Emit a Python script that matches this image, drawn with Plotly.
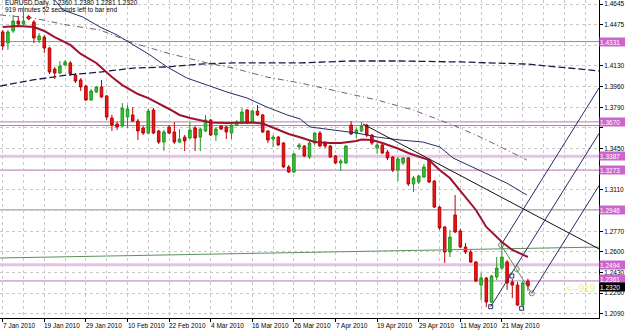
import plotly.graph_objects as go

# ---------------- data ----------------
bar_idx = list(range(102))
date_ticks = [0, 8, 16, 24, 32, 40, 48, 56, 64, 72, 80, 88, 96]
date_labels = ["7 Jan 2010", "19 Jan 2010", "29 Jan 2010", "10 Feb 2010", "22 Feb 2010",
               "4 Mar 2010", "16 Mar 2010", "26 Mar 2010", "7 Apr 2010", "19 Apr 2010",
               "29 Apr 2010", "11 May 2010", "21 May 2010"]

open_ = [1.4410, 1.4319, 1.4418, 1.4500, 1.4475, 1.4537, 1.4492, 1.4344, 1.4368, 1.4278,
         1.4105, 1.4072, 1.4138, 1.4155, 1.4056, 1.4015, 1.3965, 1.3850, 1.3916, 1.3957,
         1.3883, 1.3702, 1.3652, 1.3636, 1.3710, 1.3727, 1.3677, 1.3620, 1.3578, 1.3768,
         1.3595, 1.3504, 1.3628, 1.3587, 1.3504, 1.3545, 1.3537, 1.3620, 1.3545, 1.3595,
         1.3685, 1.3562, 1.3636, 1.3628, 1.3578, 1.3644, 1.3661, 1.3768, 1.3669, 1.3759,
         1.3727, 1.3595, 1.3529, 1.3545, 1.3496, 1.3299, 1.3257, 1.3463, 1.3471, 1.3381,
         1.3496, 1.3578, 1.3496, 1.3471, 1.3389, 1.3332, 1.3332, 1.3644, 1.3578, 1.3595,
         1.3644, 1.3562, 1.3455, 1.3480, 1.3422, 1.3381, 1.3274, 1.3332, 1.3373, 1.3159,
         1.3175, 1.3216, 1.3356, 1.3183, 1.2969, 1.2805, 1.2599, 1.2904, 1.2772, 1.2640,
         1.2599, 1.2517, 1.2327, 1.2385, 1.2188, 1.2393, 1.2467, 1.2517, 1.2352, 1.2327,
         1.2163, 1.2360]
high = [1.4426, 1.4426, 1.4550, 1.4541, 1.4574, 1.4550, 1.4508, 1.4401, 1.4385, 1.4286,
        1.4122, 1.4171, 1.4179, 1.4171, 1.4072, 1.4031, 1.3973, 1.3941, 1.3965, 1.4015,
        1.3891, 1.3727, 1.3669, 1.3825, 1.3809, 1.3792, 1.3694, 1.3636, 1.3776, 1.3784,
        1.3603, 1.3603, 1.3644, 1.3669, 1.3611, 1.3562, 1.3669, 1.3636, 1.3620, 1.3727,
        1.3694, 1.3628, 1.3644, 1.3636, 1.3652, 1.3685, 1.3784, 1.3776, 1.3768, 1.3809,
        1.3735, 1.3603, 1.3562, 1.3554, 1.3504, 1.3315, 1.3414, 1.3496, 1.3480, 1.3513,
        1.3587, 1.3595, 1.3513, 1.3480, 1.3397, 1.3364, 1.3480, 1.3677, 1.3620, 1.3669,
        1.3652, 1.3570, 1.3496, 1.3488, 1.3439, 1.3389, 1.3381, 1.3381, 1.3381, 1.3225,
        1.3233, 1.3323, 1.3373, 1.3192, 1.2978, 1.2813, 1.2780, 1.3068, 1.2788, 1.2673,
        1.2616, 1.2525, 1.2426, 1.2393, 1.2410, 1.2558, 1.2657, 1.2533, 1.2377, 1.2352,
        1.2360, 1.2380]
low = [1.4262, 1.4262, 1.4401, 1.4467, 1.4467, 1.4508, 1.4319, 1.4319, 1.4237, 1.4064,
       1.4023, 1.4064, 1.4130, 1.4048, 1.3990, 1.3924, 1.3842, 1.3842, 1.3908, 1.3866,
       1.3685, 1.3595, 1.3603, 1.3628, 1.3620, 1.3669, 1.3521, 1.3562, 1.3570, 1.3570,
       1.3488, 1.3430, 1.3570, 1.3488, 1.3496, 1.3430, 1.3529, 1.3430, 1.3430, 1.3587,
       1.3554, 1.3513, 1.3603, 1.3529, 1.3529, 1.3636, 1.3652, 1.3652, 1.3661, 1.3718,
       1.3578, 1.3496, 1.3463, 1.3471, 1.3290, 1.3249, 1.3249, 1.3439, 1.3381, 1.3364,
       1.3480, 1.3463, 1.3455, 1.3373, 1.3323, 1.3266, 1.3323, 1.3562, 1.3537, 1.3587,
       1.3545, 1.3480, 1.3406, 1.3406, 1.3356, 1.3257, 1.3183, 1.3315, 1.3142, 1.3093,
       1.3159, 1.3208, 1.3167, 1.2961, 1.2780, 1.2509, 1.2558, 1.2755, 1.2632, 1.2583,
       1.2509, 1.2352, 1.2204, 1.2146, 1.2179, 1.2369, 1.2451, 1.2286, 1.2220, 1.2155,
       1.2155, 1.2281]
close = [1.4294, 1.4410, 1.4500, 1.4475, 1.4500, 1.4517, 1.4360, 1.4377, 1.4278, 1.4080,
         1.4072, 1.4130, 1.4163, 1.4064, 1.4006, 1.3957, 1.3850, 1.3924, 1.3957, 1.3875,
         1.3710, 1.3644, 1.3628, 1.3784, 1.3776, 1.3677, 1.3595, 1.3578, 1.3759, 1.3578,
         1.3504, 1.3587, 1.3578, 1.3504, 1.3529, 1.3513, 1.3603, 1.3537, 1.3611, 1.3685,
         1.3562, 1.3611, 1.3611, 1.3587, 1.3644, 1.3669, 1.3751, 1.3661, 1.3759, 1.3727,
         1.3587, 1.3521, 1.3545, 1.3480, 1.3299, 1.3257, 1.3406, 1.3480, 1.3389, 1.3496,
         1.3578, 1.3471, 1.3471, 1.3381, 1.3332, 1.3348, 1.3471, 1.3570, 1.3603, 1.3636,
         1.3562, 1.3496, 1.3480, 1.3414, 1.3373, 1.3274, 1.3364, 1.3373, 1.3159, 1.3208,
         1.3225, 1.3299, 1.3175, 1.2969, 1.2797, 1.2599, 1.2722, 1.2764, 1.2640, 1.2599,
         1.2517, 1.2360, 1.2385, 1.2188, 1.2402, 1.2467, 1.2558, 1.2344, 1.2327, 1.2163,
         1.2344, 1.2320]

# moving averages (bar index, price)
ma_red_x = [0, 3, 6, 8, 10, 13, 15, 18, 21, 23, 26, 28, 32, 34, 36, 38, 40, 43, 46, 48, 50,
            52, 55, 57, 60, 63, 65, 68, 69, 71, 73, 76, 78, 82, 84, 86, 88, 91, 93, 96, 98, 101]
ma_red_y = [1.4451, 1.4459, 1.4451, 1.4418, 1.4368, 1.4303, 1.4229, 1.4155, 1.4039, 1.3973,
            1.3899, 1.3866, 1.3776, 1.3727, 1.3702, 1.3681, 1.3665, 1.3661, 1.3665, 1.3665,
            1.3657, 1.3620, 1.3570, 1.3545, 1.3504, 1.3496, 1.3496, 1.3513, 1.3525, 1.3521,
            1.3496, 1.3451, 1.3414, 1.3356, 1.3274, 1.3208, 1.3101, 1.2945, 1.2805, 1.2681,
            1.2616, 1.2558]

ma_navy_x = [10.0, 11.6, 15.4, 18.7, 22.0, 25.1, 28.3, 31.6, 35.4, 39.3, 43.1, 47.0, 50.8,
             54.7, 57.2, 59.1, 63.5, 68.1, 72.0, 76.4, 80.8, 84.1, 86.6, 91.8, 96.9, 100.8]
ma_navy_y = [1.4673, 1.4591, 1.4533, 1.4451, 1.4385, 1.4303, 1.4221, 1.4122, 1.4031, 1.3973,
             1.3916, 1.3866, 1.3792, 1.3727, 1.3694, 1.3628, 1.3603, 1.3578, 1.3545, 1.3521,
             1.3504, 1.3463, 1.3373, 1.3266, 1.3167, 1.3068]

ma_dash_x = [-0.5, 5.8, 12.4, 18.7, 25.1, 31.6, 37.9, 44.3, 50.8, 57.2, 67.0, 76.4, 88.1,
             100.8, 114.7]
ma_dash_y = [1.3965, 1.4015, 1.4056, 1.4080, 1.4113, 1.4122, 1.4146, 1.4155, 1.4155,
             1.4155, 1.4171, 1.4171, 1.4163, 1.4146, 1.4089]

ma_dashdot_x = [-0.5, 5.8, 12.4, 18.7, 25.1, 31.6, 39.3, 44.3, 50.8, 57.2, 72.0, 78.9, 86.6,
                91.8, 98.1, 100.8]
ma_dashdot_y = [1.4550, 1.4525, 1.4467, 1.4426, 1.4319, 1.4237, 1.4155, 1.4113, 1.4039,
                1.3990, 1.3850, 1.3768, 1.3644, 1.3546, 1.3414, 1.3356]

green_x = [-0.5, 55.3, 84.1, 114.7]
green_y = [1.2550, 1.2595, 1.2616, 1.2640]

levels_thin = [1.4331, 1.3670, 1.3640, 1.3273, 1.2946, 1.2361]
levels_thick = [1.3387, 1.2494]
level_values = [1.4331, 1.3670, 1.3387, 1.3273, 1.2946, 1.2494, 1.2361]
level_labels = ["1.4331", "1.3670", "1.3387", "1.3273", "1.2946", "1.2494", "1.2361"]

# trend line and pitchfork (bar index, price)
trend_x = [69.3, 114.7]
trend_y = [1.3652, 1.2624]
fork_med_x = [93.85, 114.67]
fork_med_y = [1.2149, 1.3574]
fork_up_x = [95.83, 114.67]
fork_up_y = [1.2657, 1.3949]
fork_lo_x = [101.73, 114.67]
fork_lo_y = [1.2259, 1.3145]
zig_x = [95.83, 98.85, 101.73]
zig_y = [1.2657, 1.2459, 1.2259]
sq_x = [93.85, 97.9, 99.8]
sq_y = [1.2149, 1.2402, 1.2136]

y_ticks = [1.2090, 1.2260, 1.2430, 1.2600, 1.2770, 1.2940, 1.3110, 1.3280, 1.3450, 1.3620,
           1.3790, 1.3960, 1.4130, 1.4300, 1.4470, 1.4640]
# labels hidden behind the level boxes are left blank
y_tick_text = ["1.2090", "1.2260", "1.2430", "1.2600", "1.2770", "", "1.3110", "",
               "1.3450", "", "1.3790", "1.3960", "1.4130", "", "1.4475", "1.4645"]

title1 = "EURUSD,Daily  1.2360 1.2380 1.2281 1.2320"
title2 = "919 minutes 52 seconds left to bar end"
last_price = 1.2320

# ---------------- figure ----------------
FONT = "Liberation Sans"
fig = go.Figure()

for lv in levels_thick:
    fig.add_shape(type="line", xref="paper", x0=0, x1=1, yref="y", y0=lv, y1=lv,
                  line=dict(color="#E6C3E6", width=3), layer="below")
for lv in levels_thin:
    fig.add_shape(type="line", xref="paper", x0=0, x1=1, yref="y", y0=lv, y1=lv,
                  line=dict(color="#B878B8", width=1), layer="below")

fig.add_trace(go.Scatter(x=green_x, y=green_y, mode="lines",
                         line=dict(color="#5E8F5E", width=1), hoverinfo="skip"))
fig.add_trace(go.Scatter(x=ma_dash_x, y=ma_dash_y, mode="lines",
                         line=dict(color="#1A1A4A", width=1.3, dash="7px,3px"), hoverinfo="skip"))
fig.add_trace(go.Scatter(x=ma_dashdot_x, y=ma_dashdot_y, mode="lines",
                         line=dict(color="#7A5A7A", width=1, dash="6px,3px,1px,3px"), hoverinfo="skip"))
fig.add_trace(go.Scatter(x=ma_navy_x, y=ma_navy_y, mode="lines",
                         line=dict(color="#2A2A66", width=1), hoverinfo="skip"))
fig.add_trace(go.Scatter(x=trend_x, y=trend_y, mode="lines",
                         line=dict(color="#111111", width=1), hoverinfo="skip"))
for fx, fy in [(fork_med_x, fork_med_y), (fork_up_x, fork_up_y), (fork_lo_x, fork_lo_y)]:
    fig.add_trace(go.Scatter(x=fx, y=fy, mode="lines",
                             line=dict(color="#2A2A66", width=1), hoverinfo="skip"))
fig.add_trace(go.Scatter(x=zig_x, y=zig_y, mode="lines+markers",
                         line=dict(color="#5E8F5E", width=1),
                         marker=dict(symbol="circle-open", size=5, color="#5E8F5E"),
                         hoverinfo="skip"))
fig.add_trace(go.Scatter(x=sq_x, y=sq_y, mode="markers",
                         marker=dict(symbol="square-open", size=4, color="#2A2A66"),
                         hoverinfo="skip"))

fig.add_trace(go.Candlestick(
    x=bar_idx, open=open_, high=high, low=low, close=close,
    increasing=dict(line=dict(color="#1F9A1F", width=1), fillcolor="#3CC03C"),
    decreasing=dict(line=dict(color="#C00000", width=1), fillcolor="#E41B1B"),
    whiskerwidth=0, hoverinfo="skip"))

fig.add_trace(go.Scatter(x=ma_red_x, y=ma_red_y, mode="lines",
                         line=dict(color="#9E1230", width=2), hoverinfo="skip"))

annotations = []
for t, lab in zip(date_ticks, date_labels):
    annotations.append(dict(x=t, xref="x", y=0, yref="paper", yanchor="top", xanchor="left",
                            yshift=-2, xshift=-2, text=lab, showarrow=False,
                            font=dict(family=FONT, size=6.5, color="#000000")))
for lv, lab in zip(level_values, level_labels):
    annotations.append(dict(x=1, xref="paper", xanchor="left", y=lv, yref="y", yanchor="middle",
                            yshift=2 if lab == "1.2361" else 0,
                            text=lab, showarrow=False, bgcolor="#CC66CC", borderpad=0,
                            width=25, height=8, align="left",
                            font=dict(family=FONT, size=6.5, color="#FFFFFF")))
annotations.append(dict(x=1, xref="paper", xanchor="left", y=last_price, yref="y",
                        yanchor="middle", yshift=-1, text="1.2320", showarrow=False,
                        bgcolor="#000000", borderpad=0, width=25, height=8, align="left",
                        font=dict(family=FONT, size=6.5, color="#FFFFFF")))
annotations.append(dict(x=0, xref="paper", xanchor="left", xshift=3, y=1, yref="paper",
                        yanchor="top", yshift=3, text=title1, showarrow=False,
                        font=dict(family=FONT, size=6.5, color="#000000")))
annotations.append(dict(x=0, xref="paper", xanchor="left", xshift=3, y=1, yref="paper",
                        yanchor="top", yshift=-4, text=title2, showarrow=False,
                        font=dict(family=FONT, size=6.5, color="#000000")))
annotations.append(dict(x=1, xref="paper", xanchor="right", xshift=-1, y=1.2300, yref="y",
                        yanchor="middle", text="<--919", showarrow=False,
                        font=dict(family=FONT, size=10, color="#EDED8A")))

fig.update_layout(
    width=625, height=331, margin=dict(l=0, r=26, t=0, b=13),
    paper_bgcolor="#FFFFFF", plot_bgcolor="#FFFFFF", showlegend=False,
    annotations=annotations,
    xaxis=dict(range=[-0.52, 114.67], rangeslider=dict(visible=False), tickmode="array",
               tickvals=date_ticks, showticklabels=False, ticks="outside", ticklen=3,
               tickcolor="#000000", showgrid=True, gridcolor="#C8C8C8", griddash="3px,3px",
               gridwidth=1, zeroline=False, showline=True, linecolor="#000000", linewidth=1,
               minor=dict(tickvals=[4 * k + 4 for k in range(28)], showgrid=True,
                          gridcolor="#C8C8C8", griddash="3px,3px", ticks="")),
    yaxis=dict(range=[1.2056, 1.4673], side="right", tickmode="array", tickvals=y_ticks,
               ticktext=y_tick_text, ticks="outside", ticklen=3, tickcolor="#000000",
               tickfont=dict(family=FONT, size=6.5, color="#000000"),
               showgrid=True, gridcolor="#C8C8C8", griddash="3px,3px", gridwidth=1,
               zeroline=False, showline=True, linecolor="#000000", linewidth=1),
)

fig.write_html("out.html")
